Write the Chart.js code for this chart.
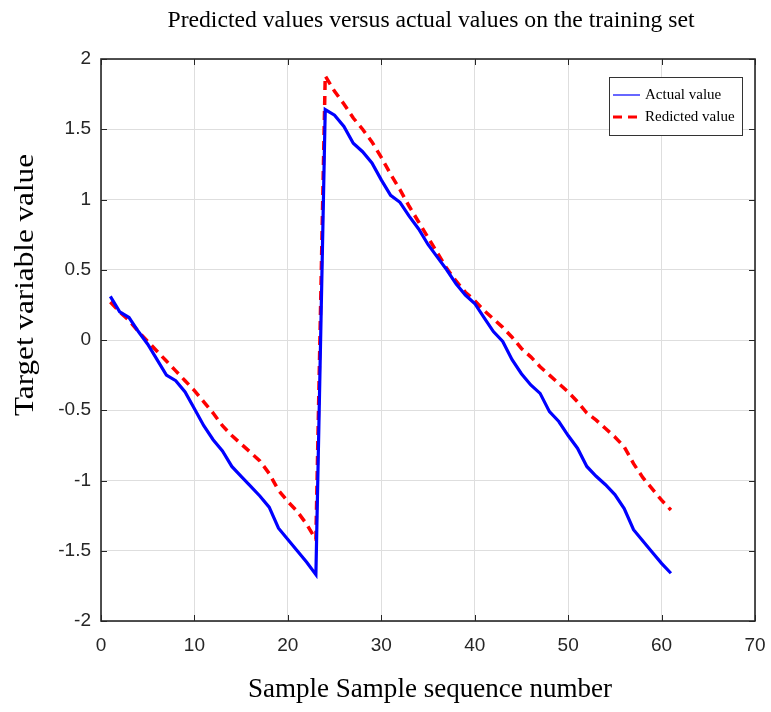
<!DOCTYPE html>
<html>
<head>
<meta charset="utf-8">
<script src="https://cdn.jsdelivr.net/npm/chart.js@4/dist/chart.umd.min.js"></script>
<style>
html,body{margin:0;padding:0;background:#fff}
#wrap{width:771px;height:712px}
</style>
</head>
<body>
<div id="wrap"><canvas id="fig" width="771" height="712"></canvas></div>
<script>
// sample numbers 1..61
var sampleNo = [1,2,3,4,5,6,7,8,9,10,11,12,13,14,15,16,17,18,19,20,
	21,22,23,24,25,26,27,28,29,30,31,32,33,34,35,36,37,38,39,40,
	41,42,43,44,45,46,47,48,49,50,51,52,53,54,55,56,57,58,59,60,61]
var actualVal = [0.31,0.20,0.16,0.06,-0.03,-0.14,-0.25,-0.29,-0.37,-0.49,
	-0.61,-0.71,-0.79,-0.90,-0.97,-1.04,-1.11,-1.19,-1.34,-1.42,
	-1.50,-1.58,-1.67,1.64,1.60,1.52,1.40,1.34,1.26,1.14,
	1.03,0.98,0.88,0.79,0.68,0.59,0.50,0.40,0.32,0.26,
	0.16,0.06,-0.01,-0.14,-0.24,-0.32,-0.38,-0.51,-0.58,-0.68,
	-0.77,-0.90,-0.97,-1.03,-1.10,-1.20,-1.35,-1.43,-1.51,-1.59,-1.66]
var predictedVal = [0.27,0.20,0.14,0.06,-0.01,-0.08,-0.15,-0.22,-0.29,-0.36,
	-0.44,-0.52,-0.61,-0.68,-0.74,-0.80,-0.86,-0.95,-1.07,-1.15,
	-1.22,-1.31,-1.42,1.88,1.77,1.68,1.58,1.50,1.41,1.30,
	1.18,1.07,0.95,0.84,0.73,0.62,0.51,0.42,0.34,0.28,
	0.21,0.15,0.09,0.02,-0.06,-0.12,-0.19,-0.25,-0.31,-0.37,
	-0.44,-0.52,-0.57,-0.63,-0.69,-0.76,-0.88,-0.98,-1.06,-1.14,-1.21]
var seriesNames = ["Actual value","Redicted value"]
var titreHaut = "Predicted values versus actual values on the training set"
var titreX = "Sample Sample sequence number"
var titreY = "Target variable value"

function pts(vals){
	var out = []
	for(var i=0;i<sampleNo.length;i++){
		out.push({x: sampleNo[i], y: vals[i]})
	}
	return out
}

var axisCol = "#262626"

// text squeezed/stretched to a given length (the original figure is not square-scaled)
function texte(c, txt, x, y, w, rot){
	c.save()
	c.translate(x, y)
	c.rotate(rot)
	var m = c.measureText(txt).width
	c.scale(w / m, 1)
	c.textAlign = "center"
	c.textBaseline = "alphabetic"
	c.fillText(txt, 0, 0)
	c.restore()
}

// box round the plot + inward ticks on all four sides, like matlab
var boxPlugin = {
	id: "boxAxes",
	afterDatasetsDraw: function(chart){
		var c = chart.ctx, a = chart.chartArea
		var sx = chart.scales.x, sy = chart.scales.y
		c.save()
		c.strokeStyle = axisCol
		c.lineWidth = 1
		sx.ticks.forEach(function(t){
			var px = Math.round(sx.getPixelForValue(t.value)) + 0.5
			c.beginPath()
			c.moveTo(px, a.bottom); c.lineTo(px, a.bottom - 6)
			c.moveTo(px, a.top); c.lineTo(px, a.top + 6)
			c.stroke()
		})
		sy.ticks.forEach(function(t){
			var py = Math.round(sy.getPixelForValue(t.value)) + 0.5
			c.beginPath()
			c.moveTo(a.left, py); c.lineTo(a.left + 6, py)
			c.moveTo(a.right, py); c.lineTo(a.right - 6, py)
			c.stroke()
		})
		c.lineWidth = 1.6
		c.strokeRect(a.left, a.top, a.right - a.left, a.bottom - a.top)
		c.restore()
	}
}

// legend in the top right corner + the three titles
var legendPlugin = {
	id: "boxLegend",
	afterDraw: function(chart){
		var c = chart.ctx
		var x0 = 609, y0 = 77, w = 133, h = 58
		c.save()
		c.fillStyle = "#fff"
		c.fillRect(x0, y0, w, h)
		c.strokeStyle = "#333"
		c.lineWidth = 1
		c.strokeRect(x0 + 0.5, y0 + 0.5, w, h)
		c.font = "15px 'Liberation Serif'"
		c.textBaseline = "middle"
		chart.data.datasets.forEach(function(ds, i){
			var yy = y0 + 18 + i * 22
			c.strokeStyle = ds.borderColor
			c.lineWidth = i == 0 ? 1.2 : 3
			c.setLineDash(ds.borderDash || [])
			c.beginPath()
			c.moveTo(x0 + 4, yy); c.lineTo(x0 + 31, yy)
			c.stroke()
			c.setLineDash([])
			c.fillStyle = "#000"
			c.fillText(ds.label, x0 + 36, yy)
		})
		c.fillStyle = "#000"
		c.font = "24px 'Liberation Serif'"
		texte(c, titreHaut, 431, 27, 527, 0)
		c.font = "27px 'Liberation Serif'"
		texte(c, titreX, 430, 697, 364, 0)
		texte(c, titreY, 33, 285, 262, -Math.PI / 2)
		c.restore()
	}
}

function fmt(v){ return String(Number(v.toFixed(2))) }

new Chart("fig", {
	type: "line",
	data: {
		datasets: [
			{label: seriesNames[0], data: pts(actualVal), borderColor: "#0000ff", borderWidth: 3.2,
				pointRadius: 0, tension: 0, fill: false},
			{label: seriesNames[1], data: pts(predictedVal), borderColor: "#ff0000", borderWidth: 3.5,
				borderDash: [9, 6], pointRadius: 0, tension: 0, fill: false}
		]
	},
	options: {
		responsive: false,
		animation: false,
		layout: {padding: {left: 0, right: 16, top: 59, bottom: 0}},
		plugins: {
			legend: {display: false},
			tooltip: {enabled: false},
			title: {display: false}
		},
		scales: {
			x: {
				type: "linear",
				min: 0, max: 70,
				ticks: {stepSize: 10, color: axisCol, padding: 13, callback: fmt, maxRotation: 0,
					font: {family: "'Liberation Sans'", size: 19}},
				grid: {color: "#dedede", tickLength: 0, drawTicks: false},
				border: {display: false},
				afterFit: function(s){ s.height = 91; s.paddingRight = 0; s.paddingLeft = 0 }
			},
			y: {
				min: -2, max: 2,
				ticks: {stepSize: 0.5, color: axisCol, padding: 10, callback: fmt,
					font: {family: "'Liberation Sans'", size: 19}},
				grid: {color: "#dedede", tickLength: 0, drawTicks: false},
				border: {display: false},
				afterFit: function(s){ s.width = 101; s.paddingTop = 0; s.paddingBottom = 0 }
			}
		}
	},
	plugins: [boxPlugin, legendPlugin]
})
</script>
</body>
</html>
